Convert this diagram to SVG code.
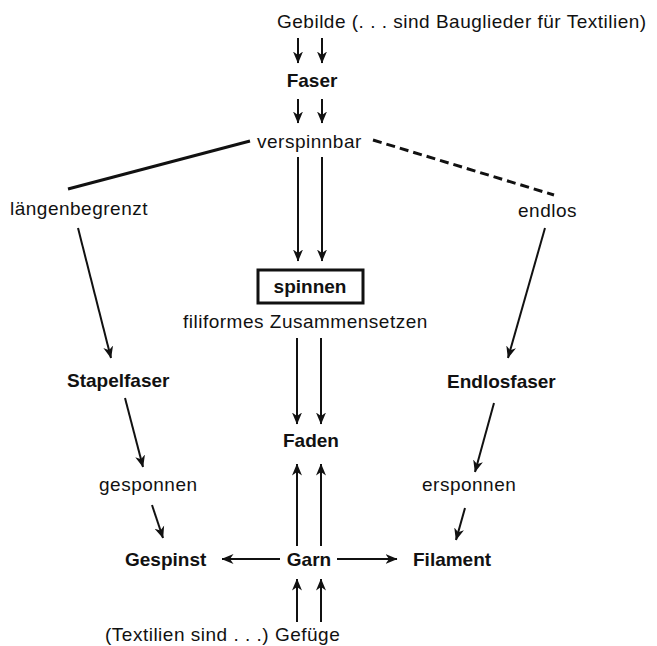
<svg xmlns="http://www.w3.org/2000/svg" width="657" height="646" viewBox="0 0 657 646">
<style>
  text { font-family: "Liberation Sans", Arial, sans-serif; font-size: 19px; fill: #111; }
  .r { letter-spacing: 0.5px; }
  .b { font-weight: bold; }
  .c { text-anchor: middle; }
  .a { stroke: #111; stroke-width: 2; fill: none; marker-end: url(#ah); }
  .l { stroke: #111; stroke-width: 3; fill: none; }
</style>
<defs>
  <marker id="ah" viewBox="0 0 12 12" refX="11.5" refY="6" markerWidth="12" markerHeight="12" markerUnits="userSpaceOnUse" orient="auto">
    <path d="M0,1 L12,6 L0,11 L3.5,6 z" fill="#111"/>
  </marker>
</defs>
<rect width="657" height="646" fill="#fff"/>
<g id="connectors">
  <line class="a" x1="298" y1="38" x2="298" y2="63"/>
  <line class="a" x1="322" y1="38" x2="322" y2="63"/>
  <line class="a" x1="298" y1="99" x2="298" y2="123"/>
  <line class="a" x1="322" y1="99" x2="322" y2="123"/>
  <line class="l" x1="250" y1="141" x2="68" y2="189"/>
  <line class="l" x1="373" y1="140" x2="554" y2="195" stroke-dasharray="9 5"/>
  <line class="a" x1="298" y1="157" x2="298" y2="261"/>
  <line class="a" x1="322" y1="157" x2="322" y2="261"/>
  <line class="a" x1="78" y1="228" x2="111" y2="358"/>
  <line class="a" x1="545" y1="228" x2="508" y2="358"/>
  <line class="a" x1="297" y1="338" x2="297" y2="424"/>
  <line class="a" x1="321" y1="338" x2="321" y2="424"/>
  <line class="a" x1="297" y1="546" x2="297" y2="464"/>
  <line class="a" x1="321" y1="546" x2="321" y2="464"/>
  <line class="a" x1="297" y1="622" x2="297" y2="579"/>
  <line class="a" x1="321" y1="622" x2="321" y2="579"/>
  <line class="a" x1="280" y1="559" x2="222" y2="559"/>
  <line class="a" x1="337" y1="559" x2="397" y2="559"/>
  <line class="a" x1="125" y1="398" x2="143" y2="467"/>
  <line class="a" x1="152" y1="505" x2="163" y2="538"/>
  <line class="a" x1="494" y1="403" x2="475" y2="472"/>
  <line class="a" x1="465" y1="508" x2="456" y2="540"/>
</g>
<g id="gebilde"><text class="r" x="277" y="28">Gebilde (. . . sind Bauglieder für Textilien)</text></g>
<g id="faser"><text class="b c" x="312" y="87">Faser</text></g>
<g id="verspinnbar"><text class="r" x="257" y="148">verspinnbar</text></g>
<g id="laengenbegrenzt"><text class="r" x="10" y="215">längenbegrenzt</text></g>
<g id="endlos"><text class="r" x="518" y="217">endlos</text></g>
<g id="spinnen">
  <rect x="258" y="270" width="105" height="33" fill="none" stroke="#111" stroke-width="3"/>
  <text class="b c" x="310" y="293">spinnen</text>
</g>
<g id="filiformes"><text class="r" x="183" y="328">filiformes Zusammensetzen</text></g>
<g id="stapelfaser"><text class="b" x="67" y="387">Stapelfaser</text></g>
<g id="endlosfaser"><text class="b" x="447" y="388">Endlosfaser</text></g>
<g id="faden"><text class="b c" x="311" y="447">Faden</text></g>
<g id="gesponnen"><text class="r" x="99" y="491">gesponnen</text></g>
<g id="ersponnen"><text class="r" x="422" y="491">ersponnen</text></g>
<g id="gespinst"><text class="b" x="125" y="566">Gespinst</text></g>
<g id="garn"><text class="b c" x="309" y="566">Garn</text></g>
<g id="filament"><text class="b" x="413" y="566">Filament</text></g>
<g id="gefuege"><text class="r" x="105" y="641">(Textilien sind . . .) Gefüge</text></g>
</svg>
